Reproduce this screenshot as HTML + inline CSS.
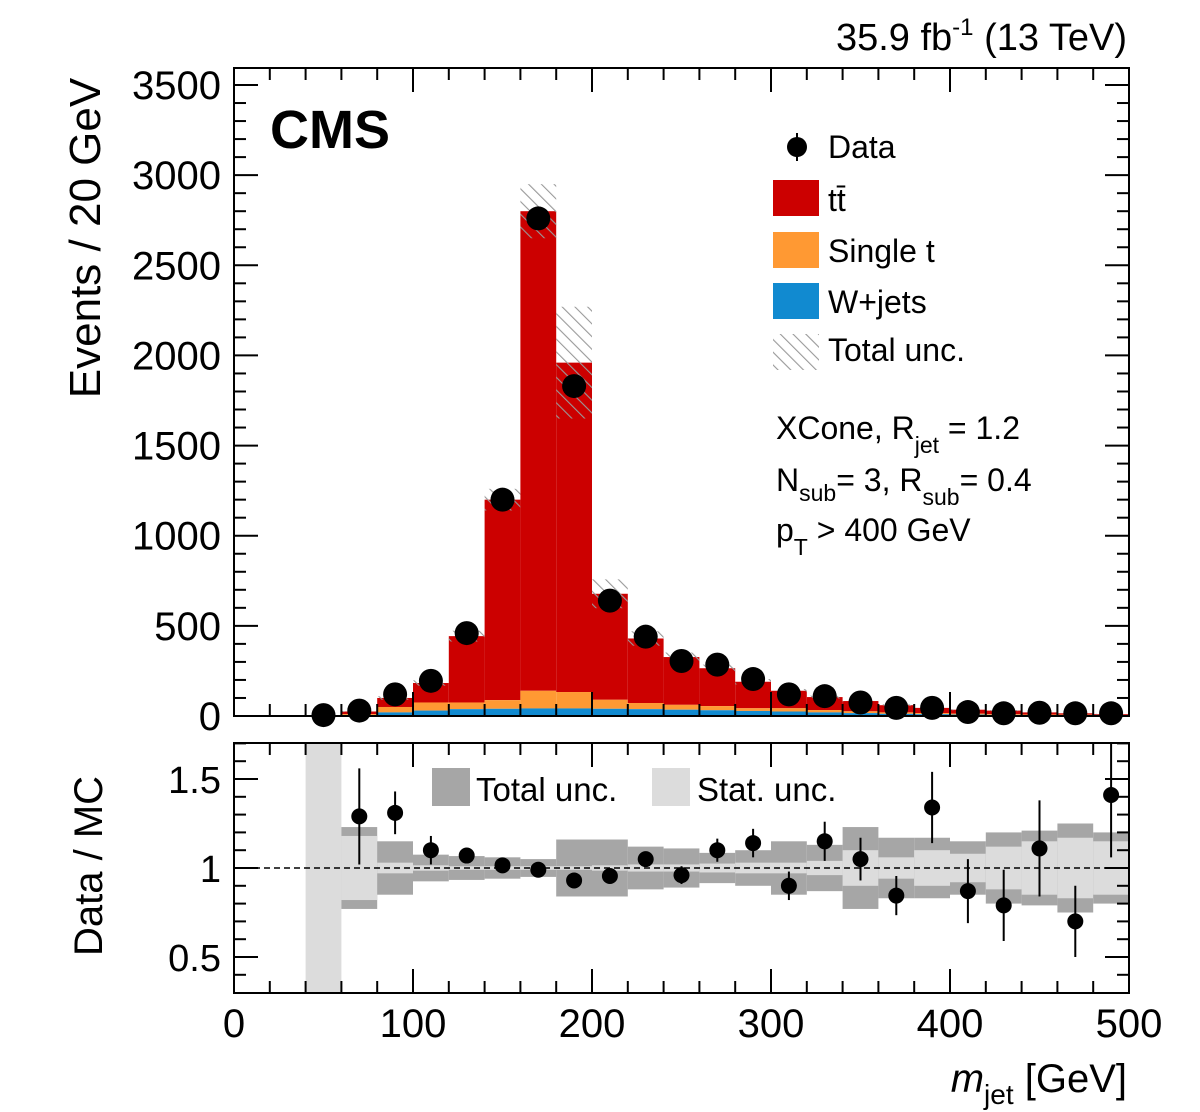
<!DOCTYPE html>
<html><head><meta charset="utf-8"><style>
html,body{margin:0;padding:0;background:#fff;}
svg{display:block;font-family:"Liberation Sans",Arial,sans-serif;}
</style></head><body>
<svg id="chart" width="1200" height="1112" viewBox="0 0 1200 1112" xmlns="http://www.w3.org/2000/svg">
<defs>
<pattern id="hatch" patternUnits="userSpaceOnUse" width="9" height="9" patternTransform="rotate(-45)">
<line x1="0" y1="0" x2="0" y2="9" stroke="#999" stroke-width="2.2"/>
</pattern>
</defs>
<g id="main"></g>
<g id="ratio"></g>
<g id="labels">
<text x="1127" y="50" text-anchor="end" font-size="38">35.9 fb<tspan dy="-15" font-size="24">-1</tspan><tspan dy="15"> (13 TeV)</tspan></text>
<text x="270" y="148" font-size="54" font-weight="bold">CMS</text>
<text transform="translate(100,238) rotate(-90)" text-anchor="middle" font-size="44">Events / 20 GeV</text>
<text transform="translate(102,866) rotate(-90)" text-anchor="middle" font-size="40">Data / MC</text>
<text x="1127" y="1092" text-anchor="end" font-size="40"><tspan font-style="italic">m</tspan><tspan dy="12" font-size="28">jet</tspan><tspan dy="-12"> [GeV]</tspan></text>
<g font-size="32">
<g><line x1="797" y1="133" x2="797" y2="161" stroke="#000" stroke-width="2"/><circle cx="797" cy="147" r="10"/><text x="828" y="158">Data</text></g>
<g><rect x="773" y="180" width="46" height="36" fill="#cc0000"/><text x="828" y="211">tt̄</text></g>
<g><rect x="773" y="232" width="46" height="36" fill="#ff9933"/><text x="828" y="262">Single t</text></g>
<g><rect x="773" y="283" width="46" height="36" fill="#118ad0"/><text x="828" y="313">W+jets</text></g>
<g><rect x="773" y="334" width="46" height="36" fill="url(#hatch)"/><text x="828" y="361">Total unc.</text></g>
</g>
<g font-size="32">
<text x="776" y="439">XCone, R<tspan dy="14" font-size="23">jet</tspan><tspan dy="-14"> = 1.2</tspan></text>
<text x="776" y="491">N<tspan dy="10" font-size="23">sub</tspan><tspan dy="-10">= 3, R</tspan><tspan dy="14" font-size="23">sub</tspan><tspan dy="-14">= 0.4</tspan></text>
<text x="776" y="541">p<tspan dy="14" font-size="23">T</tspan><tspan dy="-14"> &gt;  400 GeV</tspan></text>
</g>
<g font-size="33">
<rect x="432" y="768" width="38" height="38" fill="#a6a6a6"/><text x="476" y="801">Total unc.</text>
<rect x="652" y="768" width="38" height="38" fill="#dcdcdc"/><text x="697" y="801">Stat. unc.</text>
</g>
</g>
</svg>
<script>
const binEdgesLow = [40,60,80,100,120,140,160,180,200,220,240,260,280,300,320,340,360,380,400,420,440,460,480];
const dataCounts = [5,30,120,195,460,1200,2760,1830,640,440,305,285,205,120,110,75,45,45,22,15,18,15,15];
const wjets = [0,5,20,30,38,40,42,42,40,38,35,32,28,25,20,16,12,10,8,6,5,4,3];
const singleT = [1,5,30,45,37,48,98,91,50,34,27,23,15,18,13,10,8,6,5,4,3,3,2];
const ttbar = [1,15,50,108,368,1112,2660,1827,588,358,265,210,147,97,72,57,40,29,22,20,12,8,5];
const mcUnc = [1,3,10,15,30,60,150,310,80,40,25,20,15,10,8,6,5,4,3,3,2,2,2];
const ratioVals = [null,1.29,1.31,1.10,1.07,1.015,0.99,0.93,0.955,1.05,0.96,1.10,1.14,0.90,1.15,1.05,0.845,1.34,0.87,0.79,1.11,0.70,1.41];
const ratioErr = [0,0.27,0.12,0.08,0.03,0.02,0.02,0.02,0.03,0.04,0.05,0.065,0.08,0.08,0.11,0.12,0.11,0.2,0.18,0.2,0.27,0.2,0.35];
const totUnc = [0,0.23,0.15,0.075,0.067,0.06,0.05,0.16,0.16,0.12,0.11,0.085,0.1,0.15,0.13,0.23,0.17,0.17,0.15,0.2,0.21,0.25,0.2];
const statUnc = [1,0.18,0.03,0.015,0.01,0.01,0.01,0.01,0.015,0.02,0.02,0.025,0.03,0.03,0.04,0.1,0.06,0.1,0.08,0.12,0.15,0.17,0.15];
const mainTicks = [0,500,1000,1500,2000,2500,3000,3500];
const ratioTicks = [0.5,1,1.5];
const xTicks = [0,100,200,300,400,500];

const NS="http://www.w3.org/2000/svg";
const X0=234,X1=1129;
const xs=v=>X0+(X1-X0)*v/500;
const MY0=716,MY1=85;
const ys=v=>MY0-(MY0-MY1)*v/3500;
const RT=743,RB=993;
const ry=v=>868-(v-1)*178;
function el(tag,attrs,parent){const e=document.createElementNS(NS,tag);for(const k in attrs)e.setAttribute(k,attrs[k]);parent.appendChild(e);return e;}
const main=document.getElementById('main');
const ratio=document.getElementById('ratio');
const bw=20;
binEdgesLow.forEach((lo,i)=>{
  const x=xs(lo),w=xs(lo+bw)-x;
  const w1=wjets[i],s1=w1+singleT[i],t1=s1+ttbar[i];
  let r=el('rect',{x:x,y:ys(t1),width:w,height:ys(s1)-ys(t1),fill:'#cc0000'},main);
  
  
  r=el('rect',{x:x,y:ys(s1),width:w,height:ys(w1)-ys(s1),fill:'#ff9933'},main);
  
  
  r=el('rect',{x:x,y:ys(w1),width:w,height:ys(0)-ys(w1),fill:'#118ad0'},main);
  
  
  r=el('rect',{x:x,y:ys(t1+mcUnc[i]),width:w,height:ys(t1-mcUnc[i])-ys(t1+mcUnc[i]),fill:'url(#hatch)'},main);
  
  
});
el('line',{x1:X0,y1:MY0,x2:X1,y2:MY0,stroke:'#5ab4e6','stroke-width':2},main);
let fr=el('rect',{x:X0,y:68,width:X1-X0,height:MY0-68,fill:'none',stroke:'#000','stroke-width':2},main);


for(let v=0;v<=3600;v+=100){const y=ys(v);if(y<68)break;const L=v%500===0?24:12;
  el('line',{x1:X0,y1:y,x2:X0+L,y2:y,stroke:'#000','stroke-width':2},main);
  el('line',{x1:X1,y1:y,x2:X1-L,y2:y,stroke:'#000','stroke-width':2},main);}
mainTicks.forEach(v=>{const t=el('text',{x:221,y:ys(v)+14,'text-anchor':'end','font-size':40},main);t.textContent=v;
  
  });
for(let v=0;v<=500;v+=20){const x=xs(v);const L=v%100===0?24:12;
  el('line',{x1:x,y1:MY0,x2:x,y2:MY0-L,stroke:'#000','stroke-width':2},main);
  el('line',{x1:x,y1:68,x2:x,y2:68+L,stroke:'#000','stroke-width':2},main);}
binEdgesLow.forEach((lo,i)=>{
  const cx=xs(lo+bw/2),v=dataCounts[i],e=Math.sqrt(v);
  el('line',{x1:cx,y1:ys(v+e),x2:cx,y2:ys(Math.max(v-e,0)),stroke:'#000','stroke-width':2},main);
  const c=el('circle',{cx:cx,cy:ys(v),r:12,fill:'#000'},main);
  
  
});
binEdgesLow.forEach((lo,i)=>{
  const x=xs(lo),w=xs(lo+bw)-x;
  const top=Math.min(1+totUnc[i],1.7),bot=Math.max(1-totUnc[i],0.3);
  let r=el('rect',{x:x,y:ry(top),width:w,height:ry(bot)-ry(top),fill:'#a6a6a6'},ratio);
  
  
  const st=Math.min(1+statUnc[i],1.7),sb=Math.max(1-statUnc[i],0.3);
  r=el('rect',{x:x,y:ry(st),width:w,height:ry(sb)-ry(st),fill:'#dcdcdc'},ratio);
  
  
});
el('line',{x1:X0,y1:ry(1),x2:X1,y2:ry(1),stroke:'#000','stroke-width':1.5,'stroke-dasharray':'6,4'},ratio);
binEdgesLow.forEach((lo,i)=>{
  const v=ratioVals[i];if(v===null)return;
  const cx=xs(lo+bw/2),e=ratioErr[i];
  el('line',{x1:cx,y1:ry(Math.min(v+e,1.7)),x2:cx,y2:ry(Math.max(v-e,0.3)),stroke:'#000','stroke-width':2},ratio);
  const c=el('circle',{cx:cx,cy:ry(v),r:8,fill:'#000'},ratio);
  
  
});
fr=el('rect',{x:X0,y:RT,width:X1-X0,height:RB-RT,fill:'none',stroke:'#000','stroke-width':2},ratio);


for(let k=4;k<=17;k++){const v=k/10;const y=ry(v);if(y<RT||y>RB)continue;const L=(k%5===0)?24:12;
  el('line',{x1:X0,y1:y,x2:X0+L,y2:y,stroke:'#000','stroke-width':2},ratio);
  el('line',{x1:X1,y1:y,x2:X1-L,y2:y,stroke:'#000','stroke-width':2},ratio);}
ratioTicks.forEach(v=>{const t=el('text',{x:221,y:ry(v)+14,'text-anchor':'end','font-size':38},ratio);t.textContent=v;
  
  });
for(let v=0;v<=500;v+=20){const x=xs(v);const L=v%100===0?24:12;
  el('line',{x1:x,y1:RB,x2:x,y2:RB-L,stroke:'#000','stroke-width':2},ratio);
  el('line',{x1:x,y1:RT,x2:x,y2:RT+L,stroke:'#000','stroke-width':2},ratio);}
xTicks.forEach(v=>{const t=el('text',{x:xs(v),y:1037,'text-anchor':'middle','font-size':40},ratio);t.textContent=v;
  
  });
</script>
</body></html>
